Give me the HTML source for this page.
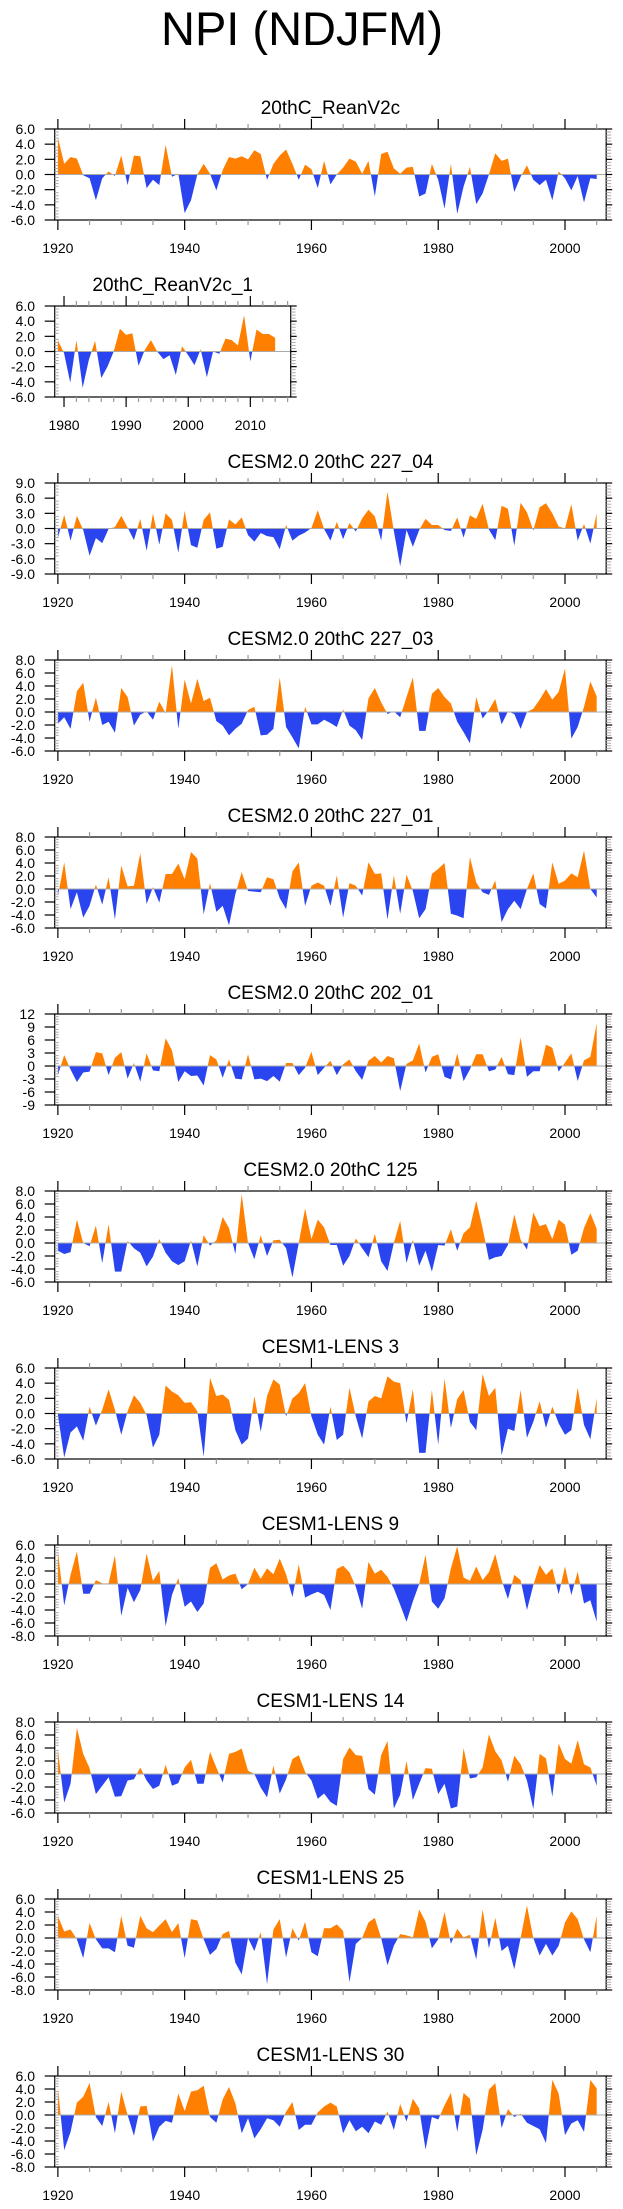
<!DOCTYPE html>
<html>
<head>
<meta charset="utf-8">
<style>
html,body{margin:0;padding:0;background:#fff;}
svg{display:block;font-family:"Liberation Sans",Arial,sans-serif;}
</style>
</head>
<body>
<svg id="fig" width="623" height="2209" viewBox="0 0 623 2209" xmlns="http://www.w3.org/2000/svg">
<text x="302" y="45" font-size="47" text-anchor="middle" fill="#000">NPI (NDJFM)</text>
</svg>
<script>
// ---- data (NPI anomalies, one value per year) ----
const yearsStartMain = 1920;
const yearsStartShort = 1979;
const valsReanV2c = [4.9,1.4,2.3,2.1,-0.1,-0.5,-3.4,-0.5,0.4,-0.2,2.5,-1.4,2.5,2.4,-1.8,-0.7,-1.4,3.9,-0.3,0.1,-5.1,-3.4,0,1.4,0.1,-2.1,0.6,2.3,2.1,2.4,2.0,3.2,2.7,-0.7,1.4,2.5,3.3,1.4,-0.7,1.3,0.7,-1.8,1.8,-1.3,0,0.9,2.1,1.7,0.1,1.8,-2.9,2.7,3.0,0.8,0.1,0.9,1.0,-2.9,-2.5,1.4,-0.7,-4.5,1.4,-5.2,-1.6,1.0,-3.9,-2.5,0,2.8,1.8,2.1,-2.3,-0.3,1.2,-0.7,-1.4,-0.7,-3.4,0.4,-0.5,-2.1,-0.2,-3.7,-0.5,-0.6];
const valsReanV2c1 = [1.5,-0.2,-4.1,1.5,-4.8,-1.1,1.4,-3.5,-2.0,0,3.0,2.2,2.4,-1.9,0.2,1.5,0,-1.0,-0.5,-3.1,0.7,-0.5,-1.8,0.3,-3.4,0,-0.3,1.7,1.5,0.8,4.8,-1.3,2.9,2.3,2.3,1.8];
const vals227_04 = [-1.9,2.7,-2.4,2.5,-0.3,-5.4,-1.9,-2.9,-0.1,0.3,2.5,0.2,-2.3,1.9,-4.4,3.0,-3.2,3.0,1.7,-4.8,3.5,-3.3,-3.8,1.7,3.2,-4.0,-3.6,1.8,0.8,2.2,-1.3,-2.6,-0.9,-1.5,-1.7,-4.1,0.7,-2.4,-1.4,-0.8,0.1,3.6,-0.1,-2.4,1.3,-2.1,1.1,-0.6,2.0,3.7,2.4,-2.4,7.3,-0.5,-7.5,-0.3,-3.6,-0.3,1.9,0.7,0.7,-0.3,-0.5,2.2,-1.8,2.6,1.9,4.9,-0.2,-2.3,4.5,3.9,-3.4,5.1,3.2,-0.4,4.2,5.0,3.0,0.4,0,4.8,-2.4,0.9,-3.0,3.0];
const vals227_03 = [-1.8,-0.8,-2.6,3.2,4.5,-1.5,2.2,-2.0,-1.5,-3.2,3.7,2.3,-2.1,-0.4,0.1,-1.2,1.6,-0.2,7.2,-2.6,5.0,1.3,5.1,1.7,2.2,-1.4,-2.1,-3.6,-2.6,-1.8,0.3,0.8,-3.6,-3.5,-2.6,5.3,-2.3,-3.9,-5.6,0.8,-1.9,-1.9,-1.2,-1.7,-2.3,0.4,-2.1,-2.8,-4.3,2.1,3.7,1.5,-0.3,0.1,-0.8,2.3,5.3,-2.9,-2.9,2.8,3.7,2.3,1.3,-1.5,-3.1,-4.8,2.3,-1.0,0.3,2.0,-1.9,0.1,-0.3,-2.6,0,0.5,1.9,3.5,1.9,3.1,6.7,-4.1,-2.3,0.8,4.7,2.4];
const vals227_01 = [-1.1,4.1,-3.1,-0.5,-4.4,-2.6,0.7,-2.4,1.8,-4.7,3.6,0.4,0.5,5.5,-2.3,0.3,-2.1,2.3,2.3,3.9,1.5,5.7,4.7,-3.9,0.9,-3.5,-2.6,-5.6,-0.8,2.6,-0.3,-0.4,-0.5,1.8,1.5,-1.4,-3.1,2.7,4.1,-2.6,0.5,1.0,0.5,-2.6,2.1,-4.4,0.9,0.5,-1.0,4.1,2.3,2.4,-4.7,2.1,-3.8,2.2,-0.3,-4.5,-3.1,2.3,3.1,4.0,-3.8,-4.1,-4.5,4.9,1.0,-0.5,-0.9,1.3,-5.1,-3.1,-1.8,-3.1,0,2.4,-2.3,-3.0,4.1,0.8,1.3,2.4,1.8,5.9,0,-1.3];
const vals202_01 = [-2.1,2.5,-0.8,-3.7,-1.5,-1.3,3.2,2.9,-2.1,1.9,3.2,-2.9,0.7,-3.6,2.9,-1.0,-1.2,6.4,3.6,-3.7,-1.2,-2.3,-2.2,-4.5,2.5,1.5,-2.7,1.5,-2.9,-3.1,2.7,-3.1,-2.9,-3.5,-2.3,-3.6,0.7,0.7,-2.1,-0.4,3.3,-2.1,-0.4,1.2,-2.1,0.4,1.5,-1.2,-3.2,1.2,2.3,0.8,2.3,1.8,-5.8,0.5,1.3,5.2,-1.5,2.1,2.7,-2.5,-3.1,2.9,-3.5,-0.8,2.7,2.7,-1.2,-0.8,2.1,-1.9,-2.1,6.6,-2.5,-1.2,-1.2,4.9,4.2,-1.3,0.8,2.9,-3.5,1.3,2.1,9.8];
const vals125 = [-1.2,-1.7,-1.4,3.6,0,-0.5,2.7,-3.1,2.9,-4.4,-4.4,0.3,-0.8,-1.5,-3.6,-2.1,0.6,-1.5,-2.8,-3.4,-2.8,0.4,-3.6,1.2,-0.4,0.4,4.0,2.3,-1.7,7.5,0,-2.5,1.2,-2.0,0.4,0.5,-0.8,-5.3,0,5.3,0.6,3.6,2.4,-0.3,-0.3,-3.5,-2.0,0.7,-0.8,-2.2,1.4,-2.8,-4.3,0,3.4,-3.1,0.5,-3.5,-1.2,-4.4,-0.3,-0.4,2.1,-1.2,1.5,2.4,6.5,2.3,-2.6,-2.2,-2.0,-0.3,4.4,0.5,-1.0,4.7,2.6,2.9,0.6,3.6,2.8,-1.8,-1.2,2.3,4.6,2.2];
const valsLens3 = [-0.2,-5.8,-2.5,-1.7,-3.6,0.9,-1.6,0.5,3.2,0.5,-2.8,0.3,2.4,1.4,-0.2,-4.5,-2.8,3.7,2.9,2.4,1.4,1.5,0.3,-5.7,4.7,2.3,2.5,1.8,-2.2,-4.1,-3.3,2.3,-2.4,2.3,4.5,3.8,-0.4,2.0,2.7,4.0,-0.4,-2.8,-4.1,0.9,-3.5,-2.8,3.4,-0.4,-3.3,1.6,2.3,2.0,4.9,4.2,4.0,-1.3,3.2,-5.2,-5.2,3.1,-4.1,4.6,-1.9,1.9,3.1,-1.1,-2.2,5.2,2.3,3.4,-5.5,-2.0,-2.3,3.1,-3.2,-1.1,1.6,-1.9,0.9,-1.3,-2.8,-2.2,3.4,-1.5,-3.4,2.0];
const valsLens9 = [5.1,-3.3,1.4,5.0,-1.5,-1.5,0.6,0.1,0.1,4.4,-4.9,-0.6,-2.8,-0.9,4.7,0.5,2.0,-6.5,-1.7,0.9,-3.5,-2.7,-4.3,-3.0,2.5,3.2,0.7,1.3,1.6,-0.8,0,2.5,0.8,2.4,1.5,3.9,1.5,-2.0,3.0,-2.1,-1.6,-1.2,-1.7,-4.0,2.3,2.8,1.8,-0.4,-3.8,3.4,1.6,2.2,1.1,-0.7,-3.2,-5.8,-2.7,0,4.5,-2.7,-3.8,-2.2,2.4,5.8,1.0,0.5,2.7,0.6,1.8,4.6,0.6,-2.3,1.4,0.6,-4.0,-0.2,2.9,1.4,2.4,-1.6,2.7,-1.7,1.9,-3.0,-2.5,-5.8];
const valsLens14 = [3.8,-4.4,-1.5,7.1,3.1,0.9,-3.1,-1.8,-0.5,-3.5,-3.4,-1.0,-0.8,1.0,-1.0,-2.3,-1.8,1.4,-1.8,-1.4,1.0,2.2,-1.5,-1.5,3.4,1.0,-1.3,3.1,3.4,3.9,0.5,0,-2.1,-3.6,1.3,-3.0,-0.8,2.3,2.9,0.3,-1.0,-3.8,-3.0,-4.3,-4.9,2.3,4.1,2.9,2.8,-2.3,-3.2,2.9,5.1,-5.3,-3.2,2.0,-4.0,-1.5,0.9,0.8,-3.1,-1.5,-5.3,-5.0,4.0,-0.7,-0.5,1.0,6.1,3.5,2.1,-1.2,2.8,1.5,-1.0,-5.4,3.1,2.4,-3.5,4.7,2.3,1.6,5.2,1.5,1.0,-1.8];
const valsLens25 = [3.4,1.0,1.3,-0.2,-3.1,2.3,-0.2,-1.6,-1.6,-2.2,3.4,-1.2,-1.5,3.4,1.5,0.9,1.9,2.9,0.9,2.3,-3.1,2.9,2.7,-0.2,-2.6,-1.7,0.6,1.1,-3.8,-5.6,0,-2.0,0.9,-7.1,1.3,2.9,-3.0,1.5,-0.4,2.5,-2.2,-2.8,1.5,1.5,2.1,1.1,-6.8,-0.9,0,2.4,3.1,0,-4.2,-1.2,0.6,0.4,0.1,4.4,2.5,-1.6,-0.2,4.0,-0.9,1.4,0.1,0.5,-3.3,4.4,-1.6,3.1,-2.0,-1.2,-4.8,0,5.0,0,-2.7,-0.9,-2.7,-1.2,2.4,4.1,2.9,-0.2,-2.2,3.4];
const valsLens30 = [4.2,-5.4,-2.6,1.9,2.8,4.9,-0.3,-1.7,2.0,-2.8,3.6,0,-3.2,1.3,1.4,-4.1,-1.8,-0.9,-1.2,3.3,0.6,3.6,3.8,4.5,-0.3,-1.2,2.4,4.3,1.8,-2.8,-0.5,-3.6,-2.2,-0.5,-0.8,-1.8,0.5,2.0,-2.3,-1.5,-1.5,0.4,1.3,1.9,1.3,-2.8,-0.8,-2.5,-1.8,-2.8,-1.0,-1.5,0.5,-2.3,1.7,-1.0,2.5,1.0,-5.3,-0.3,-0.7,1.5,3.4,-2.6,3.4,2.5,-6.2,-2.3,3.9,4.9,-2.0,0.9,-0.3,0.2,-1.2,-1.7,-2.2,-4.3,5.4,3.3,-3.1,-1.3,-0.8,-2.6,5.4,4.1];

const panelTitles = ["20thC_ReanV2c","20thC_ReanV2c_1","CESM2.0 20thC 227_04","CESM2.0 20thC 227_03","CESM2.0 20thC 227_01","CESM2.0 20thC 202_01","CESM2.0 20thC 125","CESM1-LENS 3","CESM1-LENS 9","CESM1-LENS 14","CESM1-LENS 25","CESM1-LENS 30"];
const panelSeries = [valsReanV2c,valsReanV2c1,vals227_04,vals227_03,vals227_01,vals202_01,vals125,valsLens3,valsLens9,valsLens14,valsLens25,valsLens30];
const panelYMin = [-6,-6,-9,-6,-6,-9,-6,-6,-8,-6,-8,-8];
const panelYMax = [6,6,9,8,8,12,8,6,6,8,6,6];
const panelYStep = [2,2,3,2,2,3,2,2,2,2,2,2];

const NS = 'http://www.w3.org/2000/svg';
const svg = document.getElementById('fig');
const ORANGE = '#FF8000', BLUE = '#2A45F0';
function el(tag, parent){ const e = document.createElementNS(NS, tag); parent.appendChild(e); return e; }

panelSeries.forEach(function(vals, k){
  const small = (k === 1);
  const top = 129 + 177*k, h = 91, bot = top + h;
  const x0 = 54.7, x1 = small ? 290.7 : 606.2;
  const yrMin = small ? 1978.5 : 1919.5, yrMax = small ? 2016.5 : 2006.5;
  const start = small ? yearsStartShort : yearsStartMain;
  const ymin = panelYMin[k], ymax = panelYMax[k], ystep = panelYStep[k];
  const xs = yr => x0 + (yr - yrMin)/(yrMax - yrMin)*(x1 - x0);
  const ys = v => top + (ymax - v)/(ymax - ymin)*h;

  const g = el('g', svg);
  
  

  const t = el('text', g);
  
  
  t.setAttribute('x', (x0+x1)/2); t.setAttribute('y', top-15);
  t.setAttribute('font-size', '19'); t.setAttribute('text-anchor', 'middle');
  t.textContent = panelTitles[k];

  // clip paths
  const y0 = ys(0);
  const defs = el('defs', g);
  const cpA = el('clipPath', defs); cpA.setAttribute('id', 'ca'+k);
  const ra = el('rect', cpA); ra.setAttribute('x', x0); ra.setAttribute('y', top); ra.setAttribute('width', x1-x0); ra.setAttribute('height', y0-top);
  const cpB = el('clipPath', defs); cpB.setAttribute('id', 'cb'+k);
  const rb = el('rect', cpB); rb.setAttribute('x', x0); rb.setAttribute('y', y0); rb.setAttribute('width', x1-x0); rb.setAttribute('height', bot-y0);

  let d = 'M' + xs(start).toFixed(2) + ',' + y0.toFixed(2);
  vals.forEach(function(v, i){ d += 'L' + xs(start+i).toFixed(2) + ',' + ys(v).toFixed(2); });
  d += 'L' + xs(start+vals.length-1).toFixed(2) + ',' + y0.toFixed(2) + 'Z';

  const pa = el('path', g);
  
  
  pa.setAttribute('d', d); pa.setAttribute('fill', ORANGE); pa.setAttribute('clip-path', 'url(#ca'+k+')');
  const pb = el('path', g);
  
  
  pb.setAttribute('d', d); pb.setAttribute('fill', BLUE); pb.setAttribute('clip-path', 'url(#cb'+k+')');

  const zl = el('line', g);
  
  
  zl.setAttribute('x1', x0); zl.setAttribute('x2', x1); zl.setAttribute('y1', y0); zl.setAttribute('y2', y0);
  zl.setAttribute('stroke', '#aaa'); zl.setAttribute('stroke-width', '1');

  const box = el('rect', g);
  
  
  box.setAttribute('x', x0); box.setAttribute('y', top); box.setAttribute('width', x1-x0); box.setAttribute('height', h);
  box.setAttribute('fill', 'none'); box.setAttribute('stroke', '#000'); box.setAttribute('stroke-width', '1.2');

  function tick(xa, ya, xb, yb, col, w){
    const l = el('line', g);
    l.setAttribute('x1', xa); l.setAttribute('y1', ya); l.setAttribute('x2', xb); l.setAttribute('y2', yb);
    l.setAttribute('stroke', col); l.setAttribute('stroke-width', w);
    return l;
  }
  // x ticks
  const majorX = small ? 10 : 20, minorX = small ? 2 : 5;
  const firstX = small ? 1980 : 1920, lastX = small ? 2016 : 2006;
  for (let yr = firstX; yr <= lastX; yr += minorX){
    const xx = xs(yr);
    if (xx < x0 || xx > x1) continue;
    const major = (yr % majorX === 0);
    const len = major ? 10 : 5, col = major ? '#000' : '#999';
    tick(xx, bot, xx, bot+len, col, 1.2);
    tick(xx, top, xx, top-len, col, 1.2);
    if (major){
      const lb = el('text', g);
      
      
      lb.setAttribute('x', xx); lb.setAttribute('y', bot+33);
      lb.setAttribute('font-size', '14'); lb.setAttribute('text-anchor', 'middle');
      lb.textContent = yr;
    }
  }
  // y ticks
  const nsub = 5;
  for (let v = ymin; v <= ymax + 1e-9; v += ystep){
    const yy = ys(v);
    tick(x0, yy, x0-10, yy, '#000', 1.2);
    tick(x1, yy, x1+6, yy, '#000', 1.2);
    const lb = el('text', g);
    
    
    lb.setAttribute('x', 35); lb.setAttribute('y', yy+5);
    lb.setAttribute('font-size', '14'); lb.setAttribute('text-anchor', 'end');
    lb.textContent = (k === 5) ? String(v) : v.toFixed(1);
    if (v + ystep <= ymax + 1e-9){
      for (let s = 1; s < nsub; s++){
        const ym = ys(v + ystep*s/nsub);
        tick(x0, ym, x0+4, ym, '#aaa', 1);
        tick(x1, ym, x1+5, ym, '#aaa', 1);
      }
    }
  }
});
</script>
</body>
</html>
